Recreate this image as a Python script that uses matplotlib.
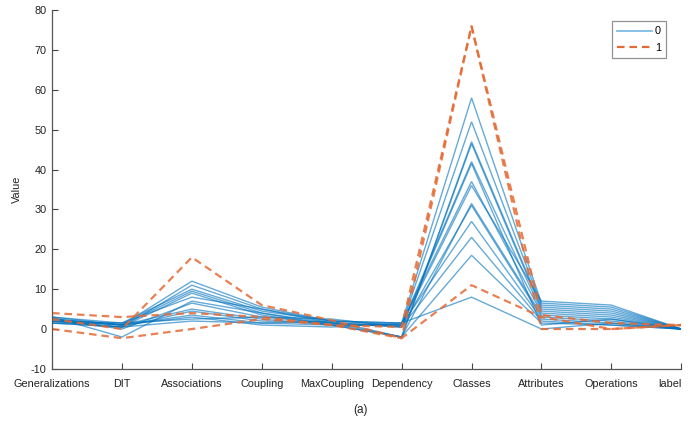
import matplotlib
matplotlib.use("Agg")
import matplotlib.pyplot as plt
from matplotlib.lines import Line2D

plt.rcParams['font.family'] = ['Liberation Sans', 'DejaVu Sans']
plt.rcParams['axes.unicode_minus'] = False

features = ["Generalizations", "DIT", "Associations", "Coupling", "MaxCoupling",
            "Dependency", "Classes", "Attributes", "Operations", "label"]

# group 0 samples (blue, solid)
group0 = [
    [2.5, 1.0, 12.0, 5.5, 2.0, 1.5, 58.0, 6.5, 5.5, 0],
    [2.0, 0.5, 11.0, 5.0, 1.5, 1.0, 52.0, 6.0, 5.0, 0],
    [3.0, 1.5, 10.0, 4.5, 2.0, -2.0, 47.0, 5.5, 4.5, 0],
    [2.5, 1.0, 9.5, 4.0, 1.5, -2.0, 46.5, 5.0, 4.0, 0],
    [1.5, 0.5, 9.0, 3.5, 1.0, 1.0, 42.0, 4.5, 3.5, 0],
    [2.0, 1.5, 8.0, 5.0, 2.0, 1.5, 37.0, 4.0, 3.0, 0],
    [3.0, -2.0, 7.0, 4.0, 1.0, -2.0, 31.5, 3.5, 2.5, 0],
    [2.5, 0.0, 6.5, 3.0, 2.5, 0.5, 31.0, 3.0, 2.0, 0],
    [2.0, 1.0, 5.0, 2.5, 1.0, 1.0, 27.0, 2.5, 1.5, 0],
    [1.5, 0.5, 4.5, 2.0, 1.5, 0.5, 23.0, 2.0, 1.0, 0],
    [2.5, 1.0, 3.5, 1.5, 1.0, -2.0, 18.5, 1.5, 1.0, 0],
    [3.0, 1.0, 3.0, 1.0, 0.5, 1.5, 8.0, 0.0, 1.5, 0],
    [2.0, 0.5, 2.0, 1.5, 2.0, 1.0, 36.0, 7.0, 6.0, 0],
    [1.5, 1.5, 2.5, 3.0, 1.5, 0.5, 41.5, 1.0, 2.5, 0],
]

# group 1 samples (orange, dashed)
group1 = [
    [4.0, 3.0, 4.0, 3.0, 1.0, 0.5, 76.0, 3.5, 1.5, 1],
    [2.5, 0.0, 18.0, 6.0, 2.2, -2.3, 11.0, 3.0, 0.0, 1],
    [0.0, -2.3, 0.0, 2.5, 1.0, -2.3, 76.0, 0.0, 0.0, 1],
]

yticks = [-10, 0, 10, 20, 30, 40, 50, 60, 70, 80]

blue = '#0072BD'
orange = '#E46A35'

fig = plt.figure(figsize=(6.9, 4.24), dpi=100)
ax = fig.add_axes([0.0754, 0.130, 0.912, 0.846])

xs = list(range(1, len(features) + 1))
for row in group0:
    ax.plot(xs, row, color=blue, lw=1.0, alpha=0.6, solid_joinstyle='miter')
for row in group1:
    ax.plot(xs, row, color=orange, lw=1.6, alpha=0.85, linestyle=(0, (3.4, 2.2)))

ax.set_xlim(1, 10)
ax.set_ylim(-10, 80)
ax.set_yticks(yticks)
ax.set_xticks(xs)
ax.set_xticklabels(features)
ax.tick_params(direction='in', length=4, width=0.8, colors='#444444', labelsize=7.8,
               labelcolor='#222222')
ax.tick_params(axis='x', pad=7)
ax.tick_params(axis='y', pad=4)
xl = ax.get_xticklabels()
xl[-1].set_horizontalalignment('right')
xl[-1].set_x(10)
ax.set_ylabel('Value', fontsize=7.8, color='#222222', labelpad=6)
for s in ['top', 'right']:
    ax.spines[s].set_visible(False)
for s in ['left', 'bottom']:
    ax.spines[s].set_color('#555555')
    ax.spines[s].set_linewidth(0.9)

handles = [Line2D([], [], color='#7dbbe6', lw=1.3),
           Line2D([], [], color=orange, lw=1.6, linestyle=(0, (3.4, 2.2)))]
leg = ax.legend(handles, ['0', '1'], loc='upper right', bbox_to_anchor=(0.985, 0.985),
                fontsize=7.8, frameon=True, fancybox=False, handlelength=3.2,
                handletextpad=0.3, borderpad=0.5, labelspacing=0.6)
leg.get_frame().set_edgecolor('#777777')
leg.get_frame().set_linewidth(0.9)

fig.text(0.522, 0.033, '(a)', ha='center', va='center', fontsize=8.5, color='#222222')

fig.savefig('out.png', dpi=100)
